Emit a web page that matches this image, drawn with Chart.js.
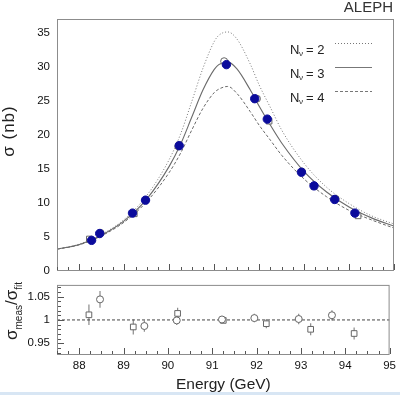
<!DOCTYPE html>
<html>
<head>
<meta charset="utf-8">
<script src="https://cdn.jsdelivr.net/npm/chart.js@4.4.0/dist/chart.umd.min.js"></script>
<style>
    body { margin: 0; background: #fff; width: 400px; height: 395px; overflow: hidden; position: relative;
           font-family: "Liberation Sans", Arial, sans-serif; }
    #topWrap { position: absolute; left: 0; top: 0; width: 400px; height: 285px; }
    #botWrap { position: absolute; left: 0; top: 271px; width: 400px; height: 124px; }
    .lbl { position: absolute; color: #222; white-space: nowrap; }
    .rot { transform: translate(-50%, -50%) rotate(-90deg); }
    #aleph { right: 7px; top: -2px; font-size: 15px; color: #333; }
    #sigTitle { left: 9px; top: 131px; font-size: 17px; letter-spacing: 1px; }
    #ratioTitle { left: 13px; top: 311px; font-size: 17px; }
    #ratioTitle sub { font-size: 10px; }
    #eTitle { left: 176px; top: 375px; font-size: 15.5px; }
    #strip { position: absolute; left: 0; top: 392px; width: 400px; height: 3px; background: #d8e6f4; }
</style>
</head>
<body>
<div id="topWrap"><canvas id="sigmaChart" width="400" height="285"></canvas></div>
<div id="botWrap"><canvas id="ratioChart" width="400" height="124"></canvas></div>
<div class="lbl" id="aleph">ALEPH</div>
<div class="lbl rot" id="sigTitle">σ (nb)</div>
<div class="lbl rot" id="ratioTitle">σ<sub>meas</sub>/σ<sub>fit</sub></div>
<div class="lbl" id="eTitle">Energy (GeV)</div>
<div id="strip"></div>
<script>
// tick labels
const energyTicks = [88, 89, 90, 91, 92, 93, 94, 95];
const sigmaTicks = [0, 5, 10, 15, 20, 25, 30, 35];
const ratioTicks = [0.95, 1, 1.05];

// fitted line shapes for N_nu = 2, 3, 4
const curveEnergy = [87.5, 88, 88.5, 89, 89.5, 90, 90.25, 90.5, 90.75, 91, 91.1, 91.3, 91.5, 91.8, 92, 92.25, 92.5, 93, 93.5, 94, 94.5, 95];
const curveN2 = [3.2, 3.95, 5.4, 7.6, 11.1, 16.4, 20.1, 24.9, 29.8, 33.7, 34.6, 35.1, 34.1, 30.4, 27.3, 24.0, 20.7, 15.8, 12.3, 9.9, 8.1, 6.9];
const curveN3 = [3.2, 3.9, 5.3, 7.4, 10.6, 15.4, 18.6, 22.6, 26.6, 29.6, 30.3, 30.7, 29.7, 26.6, 24.2, 21.4, 18.8, 14.6, 11.6, 9.4, 7.8, 6.6];
const curveN4 = [3.2, 3.85, 5.2, 7.2, 10.2, 14.5, 17.3, 20.7, 23.9, 26.2, 26.7, 27.1, 26.1, 23.4, 21.4, 19.2, 17.0, 13.5, 10.9, 8.9, 7.5, 6.3];

// measured cross sections
const blueE = [88.27, 88.45, 89.18, 89.47, 90.22, 91.27, 91.9, 92.18, 92.94, 93.22, 93.68, 94.13];
const blueSigma = [4.5, 5.5, 8.5, 10.4, 18.4, 30.3, 25.3, 22.3, 14.5, 12.5, 10.5, 8.5];
const squareE = [88.22, 89.22, 90.22, 91.25, 92.22, 93.22, 94.2];
const squareSigma = [4.7, 8.4, 18.5, 30.5, 22.0, 12.4, 8.1];
const circleE = [88.47, 89.47, 90.2, 91.22, 91.95, 92.95, 93.7];
const circleSigma = [5.6, 10.4, 18.3, 30.8, 25.3, 14.6, 10.6];

// ratio measured / fit
const squareRatio = [1.011, 0.985, 1.014, 0.999, 0.992, 0.980, 0.971];
const squareErr = [0.022, 0.016, 0.012, 0.005, 0.010, 0.013, 0.013];
const circleRatio = [1.044, 0.987, 0.999, 1.001, 1.004, 1.002, 1.010];
const circleErr = [0.018, 0.012, 0.010, 0.004, 0.009, 0.011, 0.011];

Chart.defaults.font.family = '"Liberation Sans", Arial, sans-serif';
Chart.defaults.font.size = 11.5;
Chart.defaults.color = '#111';

const pts = (xs, ys) => xs.map((x, i) => ({x: x, y: ys[i]}));
const markerGray = '#666';

// box around the plot area and inward ROOT-style ticks
const framePlugin = {
    id: 'frame',
    afterDatasetsDraw(chart, args, opts) {
        const {ctx, chartArea: a, scales} = chart;
        ctx.save();
        ctx.strokeStyle = '#8c8c8c';
        ctx.lineWidth = 1;
        ctx.strokeRect(a.left + 0.5, a.top + 0.5, a.right - a.left - 1, a.bottom - a.top - 1);
        ctx.strokeStyle = '#555';
        ctx.beginPath();
        for (let e = 87.5; e <= 95.001; e += 0.25) {
            const px = Math.round(scales.x.getPixelForValue(e)) + 0.5;
            const len = Math.abs(e - Math.round(e)) < 0.01 ? 6 : 3;
            ctx.moveTo(px, a.bottom - 1);
            ctx.lineTo(px, a.bottom - 1 - len);
        }
        if (opts.yStep) {
            const y = scales.y;
            for (let v = y.min; v <= y.max + 1e-9; v += opts.yStep) {
                const r = Math.round(v / opts.yStep) * opts.yStep;
                if (r < y.min || r > y.max) continue;
                const py = Math.round(y.getPixelForValue(r)) + 0.5;
                const major = Math.abs(r / opts.yMajor - Math.round(r / opts.yMajor)) < 0.01;
                ctx.moveTo(a.left + 1, py);
                ctx.lineTo(a.left + 1 + (major ? 6 : 3), py);
            }
        }
        ctx.stroke();
        ctx.restore();
    }
};

// legend for the three curves
const legendPlugin = {
    id: 'nuLegend',
    afterDraw(chart) {
        const ctx = chart.ctx;
        const rows = [
            {n: '2', dash: [1, 2], y: 46},
            {n: '3', dash: [], y: 70},
            {n: '4', dash: [3, 2], y: 94}
        ];
        ctx.save();
        rows.forEach(r => {
            ctx.fillStyle = '#222';
            ctx.textBaseline = 'alphabetic';
            ctx.font = '13px "Liberation Sans", Arial, sans-serif';
            ctx.fillText('N', 290, r.y + 8);
            ctx.font = '8px "Liberation Sans", Arial, sans-serif';
            ctx.fillText('ν', 299, r.y + 10);
            ctx.font = '13px "Liberation Sans", Arial, sans-serif';
            ctx.fillText('= ' + r.n, 306, r.y + 8);
            ctx.strokeStyle = '#777';
            ctx.lineWidth = 1;
            ctx.setLineDash(r.dash);
            ctx.beginPath();
            ctx.moveTo(335, r.y - 2.5);
            ctx.lineTo(372, r.y - 2.5);
            ctx.stroke();
        });
        ctx.restore();
    }
};

// vertical error bars drawn under the markers
const errorBarPlugin = {
    id: 'errorBars',
    beforeDatasetsDraw(chart) {
        const {ctx, scales} = chart;
        ctx.save();
        ctx.strokeStyle = '#8a8a8a';
        ctx.lineWidth = 1.2;
        chart.data.datasets.forEach(ds => {
            if (!ds.errors) return;
            ds.data.forEach((p, i) => {
                const px = scales.x.getPixelForValue(p.x);
                ctx.beginPath();
                ctx.moveTo(px, scales.y.getPixelForValue(p.y - ds.errors[i]));
                ctx.lineTo(px, scales.y.getPixelForValue(p.y + ds.errors[i]));
                ctx.stroke();
            });
        });
        ctx.restore();
    }
};

const curveStyle = (data, dash, color, width) => ({
    data: data, borderColor: color, borderWidth: width, borderDash: dash,
    pointRadius: 0, fill: false, cubicInterpolationMode: 'monotone'
});

new Chart(document.getElementById('sigmaChart'), {
    type: 'line',
    data: {
        datasets: [
            {data: pts(blueE, blueSigma), showLine: false, pointStyle: 'circle', pointRadius: 4.2,
             backgroundColor: '#0b0b9c', borderColor: '#0b0b9c'},
            {data: pts(circleE, circleSigma), showLine: false, pointStyle: 'circle', pointRadius: 3.5,
             backgroundColor: '#fff', borderColor: markerGray, borderWidth: 1},
            {data: pts(squareE, squareSigma), showLine: false, pointStyle: 'rect', pointRadius: 4,
             backgroundColor: '#fff', borderColor: markerGray, borderWidth: 1},
            curveStyle(pts(curveEnergy, curveN3), [], '#6a6a6a', 1.1),
            curveStyle(pts(curveEnergy, curveN2), [1, 2], '#777', 1),
            curveStyle(pts(curveEnergy, curveN4), [3, 2], '#6a6a6a', 1)
        ]
    },
    options: {
        responsive: false,
        animation: false,
        layout: {padding: {top: 19, right: 6, left: 0, bottom: 0}},
        plugins: {legend: {display: false}, tooltip: {enabled: false}, frame: {yStep: 0}},
        scales: {
            x: {
                type: 'linear', min: 87.5, max: 95,
                ticks: {display: false},
                grid: {display: false}, border: {display: false},
                afterFit: s => { s.height = 14; }
            },
            y: {
                min: 0, max: 37,
                afterBuildTicks: s => { s.ticks = sigmaTicks.map(v => ({value: v})); },
                ticks: {padding: 7},
                grid: {display: false, drawTicks: false}, border: {display: false},
                afterFit: s => { s.width = 57; }
            }
        }
    },
    plugins: [framePlugin, legendPlugin]
});

new Chart(document.getElementById('ratioChart'), {
    type: 'line',
    data: {
        datasets: [
            {data: pts(circleE, circleRatio), errors: circleErr, showLine: false, pointStyle: 'circle',
             pointRadius: 3.5, backgroundColor: '#fff', borderColor: markerGray, borderWidth: 1},
            {data: pts(squareE, squareRatio), errors: squareErr, showLine: false, pointStyle: 'rect',
             pointRadius: 4, backgroundColor: '#fff', borderColor: markerGray, borderWidth: 1},
            {data: [{x: 87.5, y: 1}, {x: 95, y: 1}], borderColor: '#444', borderWidth: 1,
             borderDash: [3, 2], pointRadius: 0}
        ]
    },
    options: {
        responsive: false,
        animation: false,
        layout: {padding: {top: 1, right: 6, left: 0, bottom: 0}},
        plugins: {legend: {display: false}, tooltip: {enabled: false}, frame: {yStep: 0.01, yMajor: 0.05}},
        scales: {
            x: {
                type: 'linear', min: 87.5, max: 95,
                afterBuildTicks: s => { s.ticks = energyTicks.map(v => ({value: v})); },
                ticks: {padding: 4, maxRotation: 0},
                grid: {display: false, drawTicks: false}, border: {display: false},
                afterFit: s => { s.height = 40; }
            },
            y: {
                min: 0.925, max: 1.075,
                afterBuildTicks: s => { s.ticks = ratioTicks.map(v => ({value: v})); },
                ticks: {padding: 7, callback: v => String(v)},
                grid: {display: false, drawTicks: false}, border: {display: false},
                afterFit: s => { s.width = 57; }
            }
        }
    },
    plugins: [framePlugin, errorBarPlugin]
});
</script>
</body>
</html>
